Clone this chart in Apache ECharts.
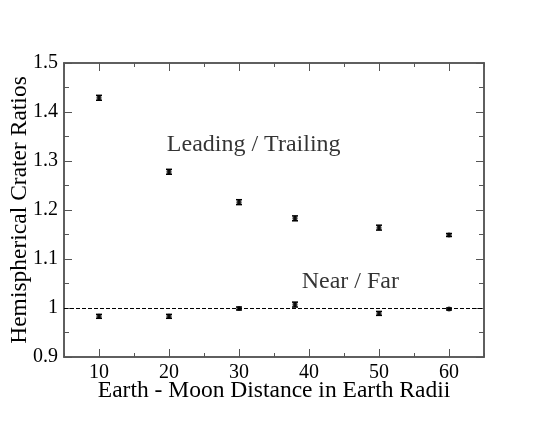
<!DOCTYPE html>
<html><head><meta charset="utf-8">
<script src="https://cdn.jsdelivr.net/npm/echarts@6/dist/echarts.min.js"></script>
<style>html,body{margin:0;padding:0;background:#fff}#c{width:545px;height:421px}</style>
</head><body><div id="c"></div>
<script>
const distances = [10, 20, 30, 38, 50, 60];
const leadingTrailing = [1.429, 1.278, 1.216, 1.183, 1.164, 1.149];
const leadingErr = [0.005, 0.005, 0.005, 0.005, 0.005, 0.003];
const nearFar = [0.983, 0.983, 0.999, 1.007, 0.989, 0.998];
const nearErr = [0.004, 0.004, 0.003, 0.005, 0.004, 0.002];
const xMajorTicks = [10, 20, 30, 40, 50, 60];
const xMinorTicks = [5, 15, 25, 35, 45, 55, 65];
const yMajorTicks = [0.9, 1.0, 1.1, 1.2, 1.3, 1.4, 1.5];
const yMinorTicks = [0.95, 1.05, 1.15, 1.25, 1.35, 1.45];
const yTickLabels = ['0.9', '1', '1.1', '1.2', '1.3', '1.4', '1.5'];
const referenceLine = 1.0;
const annotations = [
  { text: 'Leading / Trailing', x: 32.1, y: 1.333 },
  { text: 'Near / Far', x: 45.9, y: 1.053 }
];

const FONT = '"Liberation Serif", "Times New Roman", serif';
const axisColor = '#555';

function xAx(pos, major, labels, extra) {
  return Object.assign({
    type: 'value', position: pos, min: 5, max: 65,
    axisLine: { show: true, onZero: false, lineStyle: { color: axisColor, width: 1.5 } },
    splitLine: { show: false },
    axisTick: { show: true, inside: true, length: major ? 8 : 4,
      customValues: major ? xMajorTicks : xMinorTicks, lineStyle: { color: axisColor, width: 1 } },
    axisLabel: labels ? { show: true, customValues: xMajorTicks, fontFamily: FONT, fontSize: 20, color: '#000', margin: 6 } : { show: false }
  }, extra || {});
}
function yAx(pos, major, labels, extra) {
  return Object.assign({
    type: 'value', position: pos, min: 0.9, max: 1.5,
    axisLine: { show: true, onZero: false, lineStyle: { color: axisColor, width: 1.5 } },
    splitLine: { show: false },
    axisTick: { show: true, inside: true, length: major ? 8 : 5,
      customValues: major ? yMajorTicks : yMinorTicks, lineStyle: { color: axisColor, width: 1 } },
    axisLabel: labels ? { show: true, customValues: yMajorTicks, fontFamily: FONT, fontSize: 20, color: '#000', margin: 6,
      formatter: v => yTickLabels[yMajorTicks.findIndex(t => Math.abs(t - v) < 1e-6)] } : { show: false }
  }, extra || {});
}

function errData(xs, ys, es) { return xs.map((x, i) => [x, ys[i] - es[i], ys[i] + es[i]]); }
function errRender(params, api) {
  const x = api.value(0);
  const lo = api.coord([x, api.value(1)]);
  const hi = api.coord([x, api.value(2)]);
  const w = 3;
  const st = { stroke: '#000', lineWidth: 1.5 };
  return { type: 'group', children: [
    { type: 'line', shape: { x1: lo[0], y1: lo[1], x2: hi[0], y2: hi[1] }, style: st },
    { type: 'line', shape: { x1: lo[0] - w, y1: lo[1], x2: lo[0] + w, y2: lo[1] }, style: st },
    { type: 'line', shape: { x1: hi[0] - w, y1: hi[1], x2: hi[0] + w, y2: hi[1] }, style: st }
  ]};
}

const chart = echarts.init(document.getElementById('c'), null, { renderer: 'canvas' });
chart.setOption({
  backgroundColor: '#fff',
  animation: false,
  grid: { left: 64, right: 61, top: 63, bottom: 64, containLabel: false, outerBoundsMode: 'none' },
  xAxis: [
    xAx('bottom', true, true, { name: 'Earth - Moon Distance in Earth Radii', nameLocation: 'middle', nameGap: 22,
      nameMoveOverlap: false,
      nameTextStyle: { fontFamily: FONT, fontSize: 23.5, color: '#000', verticalAlign: 'top' } }),
    xAx('bottom', false, false),
    xAx('top', true, false),
    xAx('top', false, false)
  ],
  yAxis: [
    yAx('left', true, true, { name: 'Hemispherical Crater Ratios', nameLocation: 'middle', nameGap: 32,
      nameMoveOverlap: false,
      nameTextStyle: { fontFamily: FONT, fontSize: 23.5, color: '#000' } }),
    yAx('left', false, false),
    yAx('right', true, false),
    yAx('right', false, false)
  ],
  series: [
    { type: 'custom', renderItem: errRender, data: errData(distances, leadingTrailing, leadingErr), encode: { x: 0, y: [1, 2] }, z: 3 },
    { type: 'custom', renderItem: errRender, data: errData(distances, nearFar, nearErr), encode: { x: 0, y: [1, 2] }, z: 3 },
    { type: 'scatter', symbol: 'circle', symbolSize: 5, itemStyle: { color: '#000' },
      data: distances.map((x, i) => [x, leadingTrailing[i]]), z: 4 },
    { type: 'scatter', symbol: 'circle', symbolSize: 5, itemStyle: { color: '#000' },
      data: distances.map((x, i) => [x, nearFar[i]]), z: 4,
      markLine: { silent: true, symbol: 'none', label: { show: false },
        lineStyle: { color: '#000', width: 1, type: [4, 2] },
        data: [{ yAxis: referenceLine }] } },
    { type: 'scatter', symbolSize: 0, silent: true,
      data: annotations.map(a => ({ value: [a.x, a.y], label: { show: true, formatter: a.text } })),
      label: { show: true, position: 'inside', fontFamily: FONT, fontSize: 24, color: '#000' } }
  ]
});
</script></body></html>
